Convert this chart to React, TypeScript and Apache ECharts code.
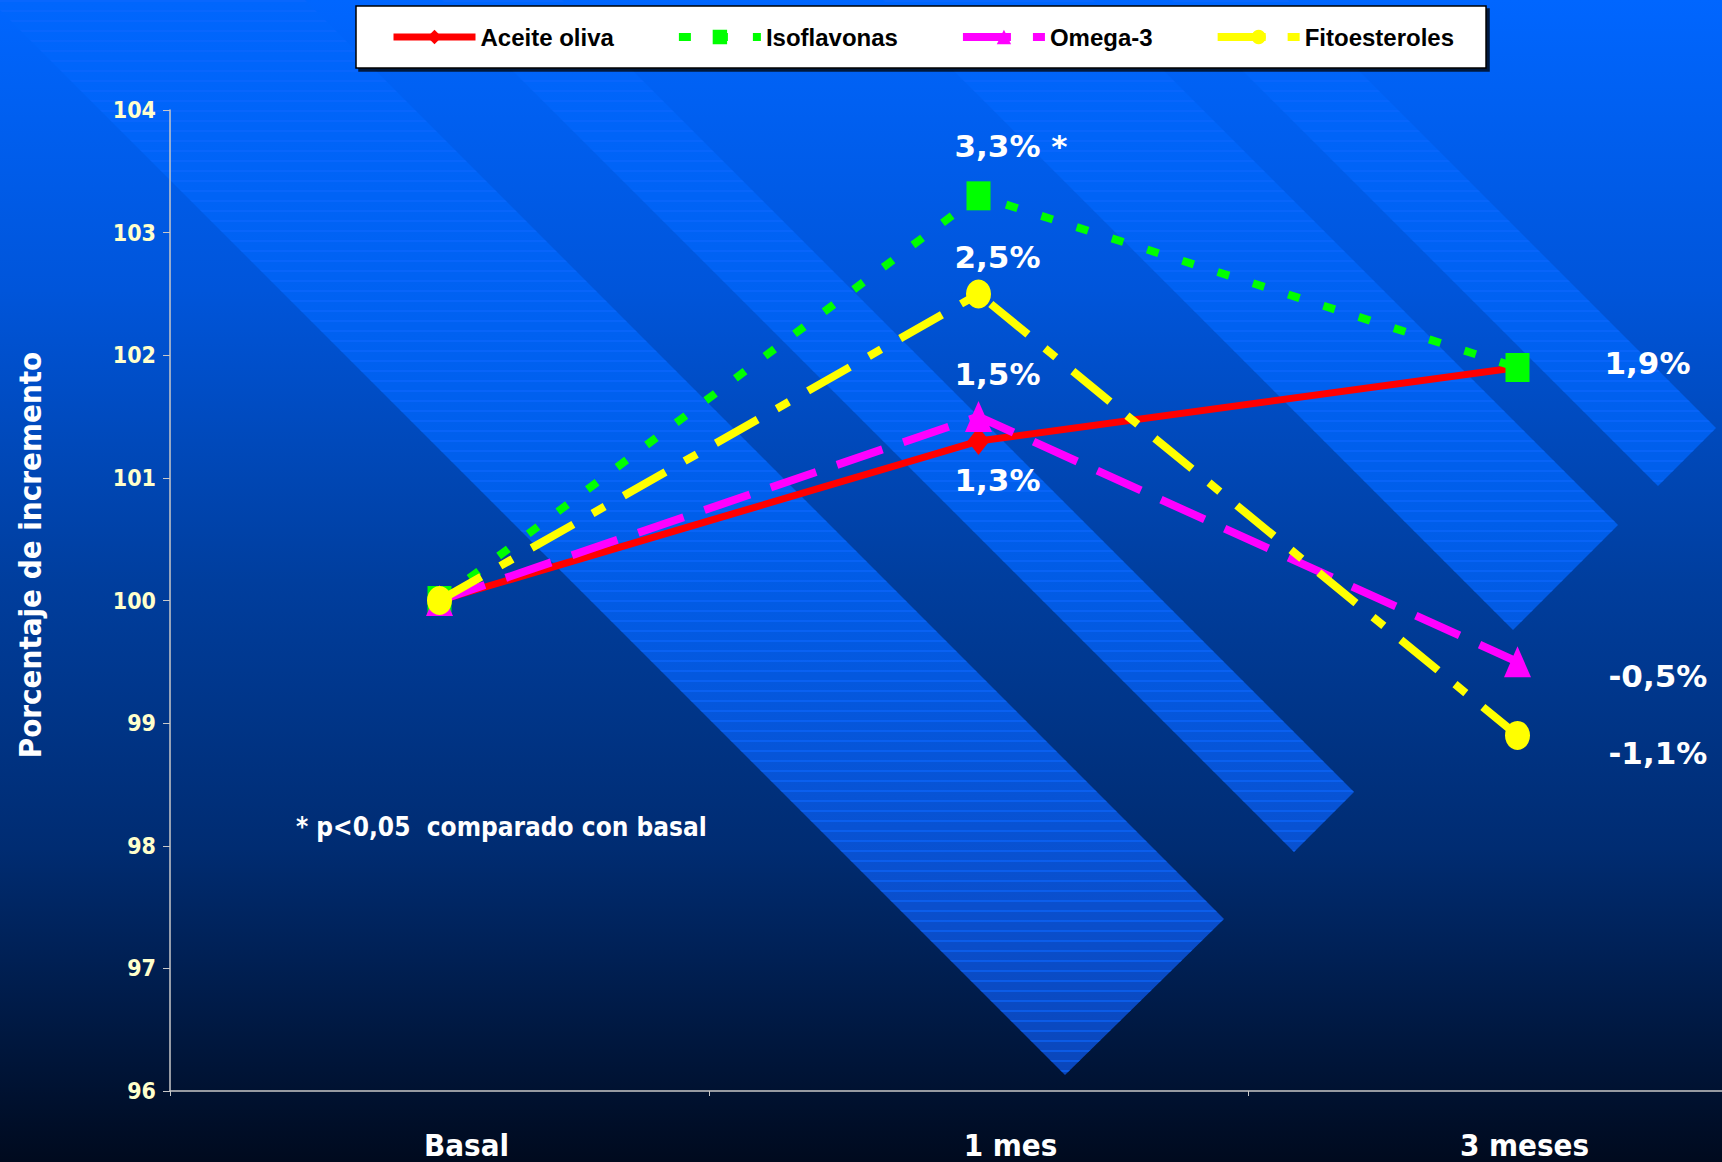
import React, { useEffect, useRef } from "react";
import * as echarts from "echarts";

// Time points and the four supplement groups (index, basal = 100)
const categories = ["Basal", "1 mes", "3 meses"];
const aceiteOliva = [100, 101.3, 101.9];
const isoflavonas = [100, 103.3, 101.9];
const omega3 = [100, 101.5, 99.5];
const fitoesteroles = [100, 102.5, 98.9];
// Significance marks per time point for Isoflavonas
const isoflavonasSignif = ["", "*", ""];

const seriesNames = ["Aceite oliva", "Isoflavonas", "Omega-3", "Fitoesteroles"];
const yMin = 96;
const yMax = 104;
const yStep = 1;

const W = 1722;
const H = 1162;

const pct = (v: number) => (v - 100).toFixed(1).replace(".", ",") + "%";

type Off = [number, number] | null;

// Builds data items; points with an offset get a percentage label
const withLabels = (values: number[], offsets: Off[], marks?: string[]) =>
  values.map((v, i) => {
    const off = offsets[i];
    if (!off) return v;
    const mark = marks && marks[i] ? " " + marks[i] : "";
    return {
      value: v,
      label: { show: true, offset: off, formatter: pct(v) + mark },
    };
  });

// Diagonal light bands of the slide background: bottom vertex and right corner
const bands: [number, number, number, number][] = [
  [1065, 1075, 1224, 919],
  [1294, 852, 1354, 792],
  [1513, 630, 1618, 525],
  [1658, 486, 1716, 428],
];

const stripeSvg =
  "data:image/svg+xml;utf8," +
  encodeURIComponent(
    "<svg xmlns='http://www.w3.org/2000/svg' width='10' height='10'><rect x='0' y='0' width='10' height='2' fill='#0e68ff' fill-opacity='0.6'/></svg>"
  );

export default function App() {
  const ref = useRef<HTMLDivElement>(null);

  useEffect(() => {
    if (!ref.current) return;
    const chart = echarts.init(ref.current, undefined, { renderer: "svg" });

    const bandGradient = {
      type: "linear",
      x: 0,
      y: 0,
      x2: 0,
      y2: H,
      global: true,
      colorStops: [
        { offset: 0, color: "#0066fd" },
        { offset: 0.45, color: "#005eea" },
        { offset: 0.78, color: "#0a4fcd" },
        { offset: 1, color: "#0a42b2" },
      ],
    };

    const L = 1500;
    const bandGraphics: any[] = [];
    bands.forEach(([vx, vy, rx, ry]) => {
      const pts = [
        [vx, vy],
        [rx, ry],
        [rx - L, ry - L],
        [vx - L, vy - L],
      ];
      bandGraphics.push({
        type: "polygon",
        z: -20,
        silent: true,
        shape: { points: pts },
        style: { fill: bandGradient },
      });
      bandGraphics.push({
        type: "polygon",
        z: -19,
        silent: true,
        shape: { points: pts },
        style: {
          fill: {
            image: stripeSvg,
            repeat: "repeat",
            imageWidth: 10,
            imageHeight: 10,
          },
        },
      });
    });

    const labelBase = {
      show: false,
      position: "inside",
      align: "left",
      verticalAlign: "middle",
      color: "#ffffff",
      fontFamily: "DejaVu Sans",
      fontWeight: "bold",
      fontSize: 31,
    };

    const xLabelShift = [54, 64, 14];
    const xRich: any = {};
    xLabelShift.forEach((p, i) => {
      xRich["c" + i] = {
        color: "#ffffff",
        fontFamily: "DejaVu Sans Condensed",
        fontWeight: "bold",
        fontSize: 31,
        padding: [0, 0, 0, p],
      };
    });

    const option: any = {
      animation: false,
      backgroundColor: {
        type: "linear",
        x: 0,
        y: 0,
        x2: 0,
        y2: 1,
        colorStops: [
          { offset: 0, color: "#0066ff" },
          { offset: 0.25, color: "#0055da" },
          { offset: 0.5, color: "#003e9e" },
          { offset: 0.73, color: "#002c72" },
          { offset: 1, color: "#000a1e" },
        ],
      },
      grid: {
        left: 170,
        top: 110,
        bottom: H - 1091,
        right: -65,
        outerBoundsMode: "none",
        containLabel: false,
      },
      legend: {
        data: seriesNames,
        left: 356,
        top: 6,
        padding: [18, 32, 18, 34],
        itemGap: 61,
        itemWidth: 82,
        itemHeight: 18,
        backgroundColor: "#ffffff",
        borderColor: "#000000",
        borderWidth: 1.5,
        shadowColor: "rgba(0,0,0,0.75)",
        shadowOffsetX: 3,
        shadowOffsetY: 3,
        shadowBlur: 1,
        lineStyle: { width: "inherit", type: "inherit" },
        textStyle: {
          color: "#000000",
          fontFamily: "Liberation Sans",
          fontWeight: "bold",
          fontSize: 24,
          lineHeight: 26,
        },
      },
      xAxis: {
        type: "category",
        data: categories,
        boundaryGap: true,
        axisLine: { lineStyle: { color: "#c8c8c8", width: 1.5 } },
        axisTick: { show: true, length: 5, lineStyle: { color: "#c8c8c8" } },
        axisLabel: {
          margin: 38,
          formatter: (v: string, i: number) => `{c${i}|${v}}`,
          rich: xRich,
        },
        splitLine: { show: false },
      },
      yAxis: {
        type: "value",
        min: yMin,
        max: yMax,
        interval: yStep,
        axisLine: { show: true, lineStyle: { color: "#c8c8c8", width: 1.5 } },
        axisTick: { show: true, length: 7, lineStyle: { color: "#c8c8c8" } },
        axisLabel: {
          margin: 14,
          color: "#ffffcc",
          fontFamily: "DejaVu Sans Condensed",
          fontWeight: "bold",
          fontSize: 23,
        },
        splitLine: { show: false },
      },
      series: [
        {
          name: seriesNames[0],
          type: "line",
          data: withLabels(aceiteOliva, [null, [-24, 39], [87, -5]]),
          symbol: "diamond",
          symbolSize: [22, 28],
          lineStyle: { color: "#ff0000", width: 7, type: "solid" },
          itemStyle: { color: "#ff0000" },
          label: labelBase,
          z: 2,
        },
        {
          name: seriesNames[1],
          type: "line",
          data: withLabels(isoflavonas, [null, [-24, -50], null], isoflavonasSignif),
          symbol: "rect",
          symbolSize: [24, 29],
          lineStyle: { color: "#00ff00", width: 8, type: [12, 25] },
          itemStyle: { color: "#00ff00" },
          label: labelBase,
          z: 3,
        },
        {
          name: seriesNames[2],
          type: "line",
          data: withLabels(omega3, [null, [-24, -43], [91, 14]]),
          symbol: "triangle",
          symbolSize: [27, 31],
          lineStyle: { color: "#ff00ff", width: 8, type: [48, 22] },
          itemStyle: { color: "#ff00ff" },
          label: labelBase,
          z: 4,
        },
        {
          name: seriesNames[3],
          type: "line",
          data: withLabels(fitoesteroles, [null, [-24, -37], [91, 18]]),
          symbol: "circle",
          symbolSize: [25, 29],
          lineStyle: { color: "#ffff00", width: 8, type: [48, 22, 14, 22] },
          itemStyle: { color: "#ffff00" },
          label: labelBase,
          z: 5,
        },
      ],
      graphic: [
        ...bandGraphics,
        {
          type: "text",
          z: 10,
          x: 30,
          y: 555,
          rotation: Math.PI / 2,
          style: {
            text: "Porcentaje de incremento",
            fill: "#ffffff",
            font: 'bold 31px "DejaVu Sans Condensed"',
            align: "center",
            verticalAlign: "middle",
          },
        },
        {
          type: "text",
          z: 10,
          x: 296,
          y: 827,
          style: {
            text: "* p<0,05  comparado con basal",
            fill: "#ffffff",
            font: 'bold 26px "DejaVu Sans Condensed"',
            align: "left",
            verticalAlign: "middle",
          },
        },
      ],
    };

    chart.setOption(option);
    return () => chart.dispose();
  }, []);

  return (
    <div
      ref={ref}
      style={{ position: "absolute", left: 0, top: 0, width: W, height: H }}
    />
  );
}
